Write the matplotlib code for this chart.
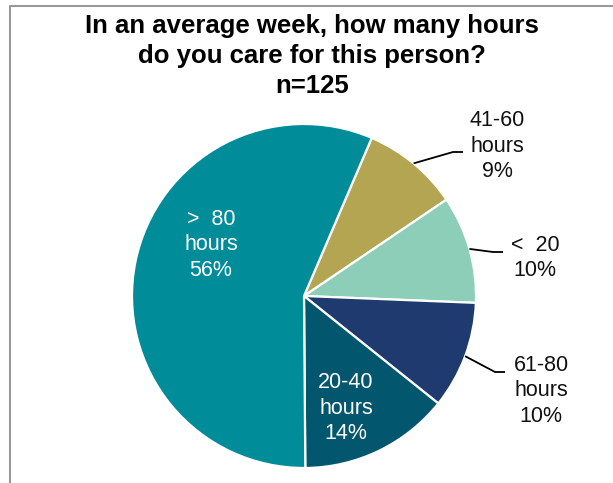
"""
Pie chart: weekly caring hours, n=125
"""
import numpy as np
import matplotlib
matplotlib.use("Agg")
from matplotlib import pyplot as plt

plt.rcParams['font.family'] = ['Liberation Sans', 'DejaVu Sans']

# data, clockwise from the top
labels = ["41-60\nhours", "<  20", "61-80\nhours", "20-40\nhours", ">  80\nhours"]
pcts = [9, 10, 10, 14, 56]
colors = ["#B4A552", "#8DCEB8", "#1E3A6E", "#02566E", "#008C99"]

W, H = 613, 483
fig = plt.figure(figsize=(W / 100, H / 100), dpi=100)
ax = fig.add_axes([0, 0, 1, 1])

cx, cy, R = 304, H - 296, 172
wedges, _ = ax.pie(pcts, colors=colors, startangle=66.8, counterclock=False,
                   center=(cx, cy), radius=R,
                   wedgeprops=dict(edgecolor="white", linewidth=1.6))
ax.set_xlim(0, W)
ax.set_ylim(0, H)
ax.set_aspect("equal")
ax.axis("off")

# label text positions (pixels from top-left), inside ones white
inside = {3: (346, 408), 4: (211, 245)}
outside = {0: ((497, 146), (463, 152)),
           1: ((535, 258), (503, 252)),
           2: ((541, 391), (505, 372))}

for i, (lab, p) in enumerate(zip(labels, pcts)):
    txt = lab + "\n%d%%" % p
    if i in inside:
        x, y = inside[i]
        ax.text(x, H - y, txt, color="white", fontsize=15.5, ha="center",
                va="center", linespacing=1.3)
    else:
        (x, y), (ex, ey) = outside[i]
        ax.text(x, H - y, txt, color="#111111", fontsize=15.5, ha="center",
                va="center", linespacing=1.3)
        w = wedges[i]
        mid = np.deg2rad((w.theta1 + w.theta2) / 2)
        sx, sy = cx + R * np.cos(mid), cy + R * np.sin(mid)
        kx = ex - 10
        ax.plot([sx, kx, ex], [sy, H - ey, H - ey], color="black", lw=1.3,
                solid_capstyle="butt")

# frame
ax.plot([10, 10, W], [0, H - 6, H - 6], color="#999999", lw=1.5, clip_on=False)

fig.text(312 / W, 1 - 14 / H, "In an average week, how many hours\ndo you care for this person?\nn=125",
         ha="center", va="top", fontsize=18.5, fontweight="bold", linespacing=1.32)

fig.savefig("out.png", dpi=100)
